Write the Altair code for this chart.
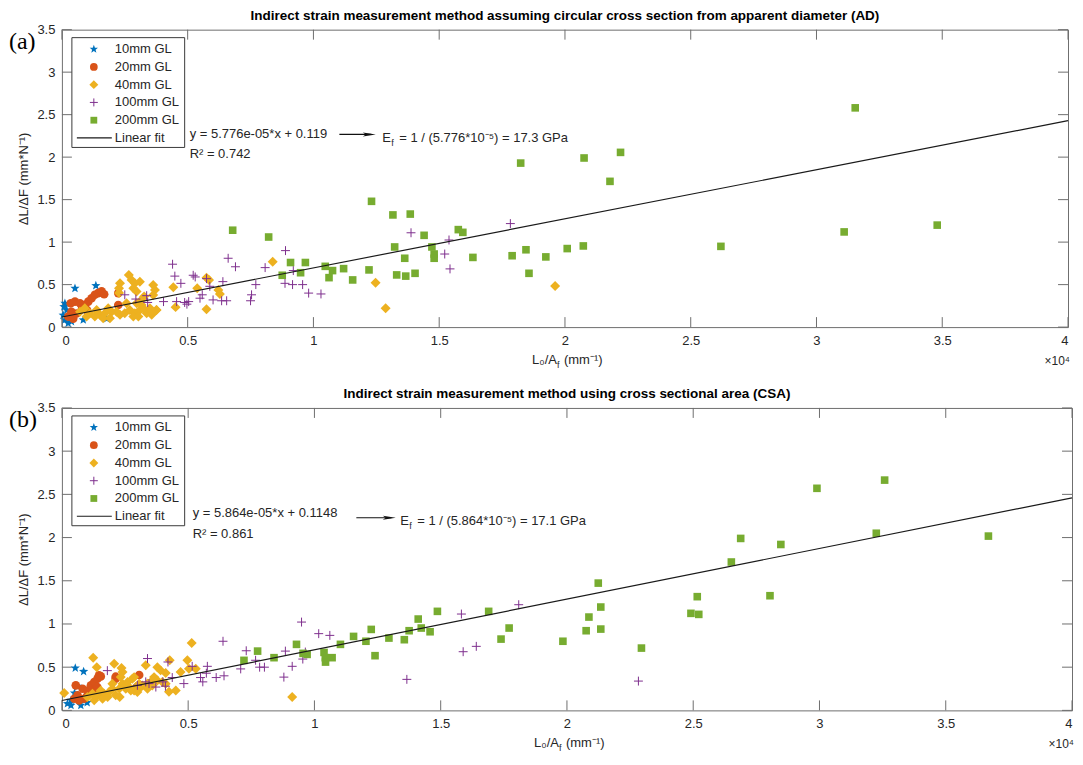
import math
import altair as alt
import pandas as pd

SERIES = ["10mm GL", "20mm GL", "40mm GL", "100mm GL", "200mm GL"]
COLORS = ["#0072BD", "#D95319", "#EDB120", "#7E2F8E", "#77AC30"]
X_TICKS = [0, 0.5, 1, 1.5, 2, 2.5, 3, 3.5, 4]      # in units of 10^4 mm^-1
Y_TICKS = [0, 0.5, 1, 1.5, 2, 2.5, 3, 3.5]

# ---------------- Panel (a): apparent diameter ----------------
a10_x = [0.005, 0.012, 0.012, 0.019, 0.025, 0.038, 0.052, 0.085, 0.135, 0.178, 0.030, 0.008]
a10_y = [0.14, 0.085, 0.28, 0.20, 0.045, 0.065, 0.456, 0.085, 0.488, 0.10, 0.12, 0.24]

a20_x = [0.025, 0.038, 0.035, 0.052, 0.072, 0.091, 0.105, 0.118, 0.131, 0.144, 0.158, 0.168,
         0.058, 0.045, 0.224, 0.224, 0.10, 0.08]
a20_y = [0.124, 0.18, 0.28, 0.30, 0.28, 0.26, 0.30, 0.34, 0.38, 0.40, 0.42, 0.386,
         0.16, 0.10, 0.40, 0.26, 0.20, 0.22]

a40_x = [0.227, 0.227, 0.231, 0.266, 0.277, 0.29, 0.297, 0.31, 0.284, 0.31,
         0.327, 0.257, 0.363, 0.37, 0.363, 0.297, 0.337, 0.376, 0.443, 0.452,
         0.538, 0.575, 0.585, 0.575, 0.622, 0.628, 0.838, 1.247, 1.287, 1.961,
         0.072, 0.091, 0.111, 0.131, 0.151, 0.171, 0.184, 0.198, 0.217, 0.231,
         0.25, 0.27, 0.29, 0.31, 0.317, 0.33, 0.35, 0.357, 0.376, 0.098,
         0.138, 0.164, 0.191, 0.284, 0.304]
a40_y = [0.40, 0.456, 0.515, 0.614, 0.555, 0.515, 0.418, 0.535, 0.456, 0.30,
         0.359, 0.28, 0.496, 0.438, 0.379, 0.28, 0.162, 0.20, 0.47, 0.235,
         0.456, 0.58, 0.555, 0.21, 0.438, 0.39, 0.77, 0.523, 0.221, 0.485,
         0.182, 0.221, 0.162, 0.124, 0.144, 0.162, 0.221, 0.182, 0.182, 0.144,
         0.162, 0.202, 0.162, 0.202, 0.261, 0.202, 0.221, 0.144, 0.202, 0.124,
         0.202, 0.104, 0.104, 0.124, 0.124]

a100_x = [0.25, 0.294, 0.337, 0.341, 0.404, 0.44, 0.449, 0.456, 0.473, 0.488,
          0.497, 0.504, 0.522, 0.53, 0.549, 0.558, 0.575, 0.588, 0.601, 0.635,
          0.64, 0.655, 0.661, 0.69, 0.75, 0.754, 0.771, 0.808, 0.887, 0.889,
          0.917, 0.92, 0.957, 0.981, 1.03, 1.388, 1.522, 1.539, 1.543, 1.783]
a100_y = [0.38, 0.33, 0.37, 0.29, 0.30, 0.74, 0.60, 0.30, 0.515, 0.29,
          0.27, 0.30, 0.61, 0.59, 0.34, 0.38, 0.57, 0.48, 0.32, 0.31,
          0.535, 0.31, 0.81, 0.71, 0.31, 0.38, 0.50, 0.70, 0.515, 0.90,
          0.50, 0.665, 0.50, 0.40, 0.39, 1.11, 0.86, 1.025, 0.685, 1.218]

a200_x = [0.679, 0.822, 0.909, 0.968, 0.876, 0.949, 1.047, 1.076, 1.062, 1.12,
          1.156, 1.221, 1.231, 1.316, 1.385, 1.44, 1.576, 1.594, 1.323, 1.471,
          1.48, 1.48, 1.363, 1.331, 1.367, 1.404, 1.634, 1.79, 1.845, 1.857,
          1.924, 2.009, 2.073, 1.824, 2.076, 2.221, 2.179, 2.62, 3.11, 3.154, 3.48]
a200_y = [1.14, 1.06, 0.76, 0.76, 0.61, 0.64, 0.715, 0.665, 0.582, 0.688,
          0.555, 0.673, 1.48, 1.32, 1.33, 1.08, 1.147, 1.115, 0.943, 0.943,
          0.86, 0.81, 0.81, 0.614, 0.60, 0.633, 0.82, 0.84, 0.91, 0.633,
          0.826, 0.924, 0.955, 1.93, 1.99, 2.056, 1.715, 0.95, 1.12, 2.58, 1.20]

a_fit_x = [0, 4]
a_fit_y = [0.119, 2.429]

# ---------------- Panel (b): cross sectional area ----------------
b10_x = [0.053, 0.086, 0.062, 0.036, 0.036, 0.075, 0.088, 0.022, 0.05, 0.10]
b10_y = [0.49, 0.45, 0.278, 0.116, 0.058, 0.058, 0.116, 0.078, 0.20, 0.09]

b20_x = [0.049, 0.062, 0.082, 0.102, 0.115, 0.128, 0.141, 0.154, 0.147, 0.128,
         0.088, 0.068, 0.213, 0.306, 0.055, 0.10, 0.14, 0.213]
b20_y = [0.135, 0.174, 0.25, 0.23, 0.29, 0.328, 0.367, 0.393, 0.405, 0.23,
         0.135, 0.116, 0.367, 0.41, 0.29, 0.17, 0.27, 0.39]

b40_x = [0.009, 0.124, 0.138, 0.207, 0.236, 0.24, 0.233, 0.229, 0.279, 0.286,
         0.332, 0.339, 0.378, 0.391, 0.411, 0.365, 0.427, 0.424, 0.451, 0.47,
         0.497, 0.503, 0.514, 0.53, 0.912, 0.266, 0.299, 0.312,
         0.101, 0.121, 0.141, 0.154, 0.167, 0.187, 0.20, 0.213, 0.227, 0.253,
         0.273, 0.292, 0.306, 0.319, 0.339, 0.352, 0.378, 0.398, 0.411, 0.128,
         0.161, 0.181, 0.20, 0.24, 0.26, 0.286, 0.339, 0.358]
b40_y = [0.20, 0.61, 0.50, 0.54, 0.49, 0.443, 0.385, 0.154, 0.367, 0.385,
         0.521, 0.309, 0.50, 0.463, 0.432, 0.385, 0.579, 0.216, 0.231, 0.443,
         0.579, 0.482, 0.779, 0.482, 0.154, 0.27, 0.212, 0.27,
         0.154, 0.193, 0.174, 0.231, 0.193, 0.212, 0.251, 0.174, 0.251, 0.251,
         0.231, 0.27, 0.309, 0.289, 0.309, 0.328, 0.347, 0.328, 0.309, 0.116,
         0.135, 0.154, 0.309, 0.309, 0.328, 0.231, 0.251, 0.289]

b100_x = [0.18, 0.299, 0.332, 0.339, 0.345, 0.372, 0.40, 0.41, 0.42, 0.437,
          0.483, 0.516, 0.549, 0.558, 0.572, 0.576, 0.611, 0.638, 0.642, 0.708,
          0.73, 0.767, 0.783, 0.802, 0.879, 0.885, 0.912, 0.949, 0.954, 0.964,
          1.017, 1.061, 1.366, 1.582, 1.589, 1.641, 1.809, 2.283]
b100_y = [0.46, 0.29, 0.33, 0.60, 0.31, 0.27, 0.33, 0.28, 0.56, 0.38,
          0.31, 0.51, 0.38, 0.33, 0.43, 0.51, 0.38, 0.80, 0.40, 0.48,
          0.69, 0.58, 0.50, 0.50, 0.385, 0.686, 0.51, 1.022, 0.594, 0.675,
          0.888, 0.868, 0.359, 1.115, 0.679, 0.741, 1.223, 0.339]

b200_x = [0.721, 0.775, 0.84, 0.929, 0.971, 1.038, 1.043, 1.044, 1.07, 1.103,
          1.155, 1.204, 1.225, 1.24, 1.295, 1.356, 1.375, 1.411, 1.423, 1.458,
          1.487, 1.69, 1.739, 1.771, 1.984, 2.076, 2.087, 2.124, 2.134, 2.134,
          2.295, 2.491, 2.516, 2.522, 2.651, 2.688, 2.804, 2.847, 2.99, 3.225,
          3.258, 3.669, 0.955]
b200_y = [0.579, 0.686, 0.61, 0.764, 0.648, 0.671, 0.61, 0.559, 0.61, 0.764,
          0.856, 0.80, 0.937, 0.633, 0.837, 0.818, 0.922, 1.057, 0.953, 0.91,
          1.146, 1.146, 0.825, 0.953, 0.80, 0.922, 1.08, 1.473, 1.196, 0.941,
          0.721, 1.123, 1.316, 1.111, 1.717, 1.99, 1.327, 1.92, 2.57, 2.05,
          2.665, 2.017, 0.66]

b_fit_x = [0, 4]
b_fit_y = [0.1148, 2.460]

# ---------------- styling ----------------
FONT = "Liberation Sans"
AX = "#6e6e6e"
TXT = "#262626"


def star_path():
    pts = []
    for k in range(10):
        r = 1.0 if k % 2 == 0 else 0.42
        a = math.radians(-90 + 36 * k)
        pts.append(f"{r * math.cos(a):.3f},{r * math.sin(a):.3f}")
    return "M" + "L".join(pts) + "Z"


STAR = star_path()
PLUS = "M-1,0L1,0M0,-1L0,1"
ARROW = "M-1,-0.3L1,0L-1,0.3L-0.55,0Z"
MARKERS = [
    dict(shape=STAR, size=95, filled=True),
    dict(shape="circle", size=75, filled=True),
    dict(shape="diamond", size=100, filled=True),
    dict(shape=PLUS, size=80, filled=False, strokeWidth=1),
    dict(shape="square", size=58, filled=True),
]
ONE = pd.DataFrame({"k": [0]})


def panel(series, fit_x, fit_y, title, tag, eq1, eq2, ef_rest, ann, W, H):
    xsc = alt.Scale(domain=[0, 4], nice=False, zero=False)
    ysc = alt.Scale(domain=[0, 3.5], nice=False, zero=False)
    xax = alt.Axis(values=X_TICKS, format="~g", title=None, labelPadding=7)
    yax = alt.Axis(values=Y_TICKS, format="~g", title="ΔL/ΔF (mm*N⁻¹)",
                   labelPadding=7, titlePadding=6, titleFont=FONT,
                   titleFontSize=13, titleFontWeight="normal", titleColor=TXT)

    def X(f):
        return alt.X(f"{f}:Q", scale=xsc, axis=xax)

    def Y(f):
        return alt.Y(f"{f}:Q", scale=ysc, axis=yax)

    layers = []
    # points
    for (xs, ys), m, c in zip(series, MARKERS, COLORS):
        df = pd.DataFrame({"x": xs, "y": ys})
        kw = dict(m)
        kw.update(color=c, opacity=1)
        layers.append(alt.Chart(df).mark_point(**kw).encode(x=X("x"), y=Y("y")))
    # fit line
    fdf = pd.DataFrame({"x": fit_x, "y": fit_y})
    layers.append(alt.Chart(fdf).mark_line(color="#1a1a1a", strokeWidth=1.2)
                  .encode(x=X("x"), y=Y("y")))
    # inward ticks on all four sides
    tx = pd.DataFrame({"v": X_TICKS})
    ty = pd.DataFrame({"v": Y_TICKS})
    layers.append(alt.Chart(tx).mark_rule(color=AX, strokeWidth=1)
                  .encode(x=X("v"), y=alt.value(H), y2=alt.value(H - 10)))
    layers.append(alt.Chart(tx).mark_rule(color=AX, strokeWidth=1)
                  .encode(x=X("v"), y=alt.value(0), y2=alt.value(10)))
    layers.append(alt.Chart(ty).mark_rule(color=AX, strokeWidth=1)
                  .encode(y=Y("v"), x=alt.value(0), x2=alt.value(10)))
    layers.append(alt.Chart(ty).mark_rule(color=AX, strokeWidth=1)
                  .encode(y=Y("v"), x=alt.value(W), x2=alt.value(W - 10)))

    # legend box
    layers.append(alt.Chart(ONE).mark_rect(fill="white", stroke="#3a3a3a", strokeWidth=1)
                  .encode(x=alt.value(10), x2=alt.value(123), y=alt.value(8), y2=alt.value(118)))
    for i, (m, c) in enumerate(zip(MARKERS, COLORS)):
        kw = dict(m)
        kw["size"] = kw["size"] * 0.8
        kw.update(color=c, opacity=1)
        layers.append(alt.Chart(ONE).mark_point(**kw)
                      .encode(x=alt.value(32), y=alt.value(19.5 + 17.8 * i)))
    layers.append(alt.Chart(ONE).mark_rule(color="#1a1a1a", strokeWidth=1.2)
                  .encode(x=alt.value(15), x2=alt.value(50), y=alt.value(19.5 + 17.8 * 5)))
    ldf = pd.DataFrame({"label": SERIES + ["Linear fit"], "row": list(range(6))})
    layers.append(alt.Chart(ldf).mark_text(align="left", baseline="middle", font=FONT,
                                          fontSize=13, color=TXT)
                  .transform_calculate(py="19.5 + datum.row * 17.8")
                  .encode(x=alt.value(53), y=alt.Y("py:Q", scale=None), text="label:N"))

    # equation annotations
    ex, ey1, ey2, ax0, ax1, ay, efx, efy = ann

    def txt(t, x, y, size=13, align="left", baseline="middle", font=FONT, color=TXT, dy=0):
        return alt.Chart(ONE).mark_text(text=t, align=align, baseline=baseline, font=font,
                                        fontSize=size, color=color, dy=dy) \
            .encode(x=alt.value(x), y=alt.value(y))

    layers.append(txt(eq1, ex, ey1))
    layers.append(txt(eq2, ex, ey2))
    layers.append(alt.Chart(ONE).mark_rule(color="#111", strokeWidth=1.2)
                  .encode(x=alt.value(ax0), x2=alt.value(ax1 - 4), y=alt.value(ay)))
    layers.append(alt.Chart(ONE).mark_point(shape=ARROW, size=170, filled=True,
                                            color="#111", opacity=1)
                  .encode(x=alt.value(ax1 - 6), y=alt.value(ay)))
    layers.append(txt("E", efx, efy))
    layers.append(txt("f", efx + 9, efy, size=9, dy=5))
    layers.append(txt(ef_rest, efx + 17, efy))

    # panel tag, x title pieces, exponent
    layers.append(txt(tag, -53, 12, size=24, font="Liberation Serif", color="#000"))
    cx = W / 2 - 2
    layers.append(txt("L₀/A", cx - 6, H + 33, align="right"))
    layers.append(txt("f", cx - 6, H + 33, size=9, dy=5))
    layers.append(txt("(mm⁻¹)", cx + 1, H + 33))
    layers.append(txt("×10⁴", W + 2, H + 34, size=12, align="right"))

    return alt.layer(*layers).properties(
        width=W, height=H,
        title=alt.TitleParams(title, font=FONT, fontSize=13.5, fontWeight="bold",
                              color="#000", anchor="middle", frame="group", offset=1),
    )


pa = panel(
    [(a10_x, a10_y), (a20_x, a20_y), (a40_x, a40_y), (a100_x, a100_y), (a200_x, a200_y)],
    a_fit_x, a_fit_y,
    "Indirect strain measurement method assuming circular cross section from apparent diameter (AD)",
    "(a)",
    "y = 5.776e-05*x + 0.119", "R² = 0.742", "= 1 / (5.776*10⁻⁵) = 17.3 GPa",
    (128, 105, 125, 278, 314, 105, 321, 109),
    1008, 298,
)
pb = panel(
    [(b10_x, b10_y), (b20_x, b20_y), (b40_x, b40_y), (b100_x, b100_y), (b200_x, b200_y)],
    b_fit_x, b_fit_y,
    "Indirect strain measurement method using cross sectional area (CSA)",
    "(b)",
    "y = 5.864e-05*x + 0.1148", "R² = 0.861", "= 1 / (5.864*10⁻⁵) = 17.1 GPa",
    (131, 105, 126, 295, 334, 110, 339, 113),
    1012, 303,
)

chart = alt.vconcat(pa, pb, spacing=16, padding=0).configure_view(
    stroke=AX, strokeWidth=1
).configure_axis(
    ticks=False, domain=False, grid=False, labelFont=FONT, labelFontSize=13,
    labelColor=TXT
)

chart.save("out.html", embed_options={"renderer": "svg", "actions": False})
